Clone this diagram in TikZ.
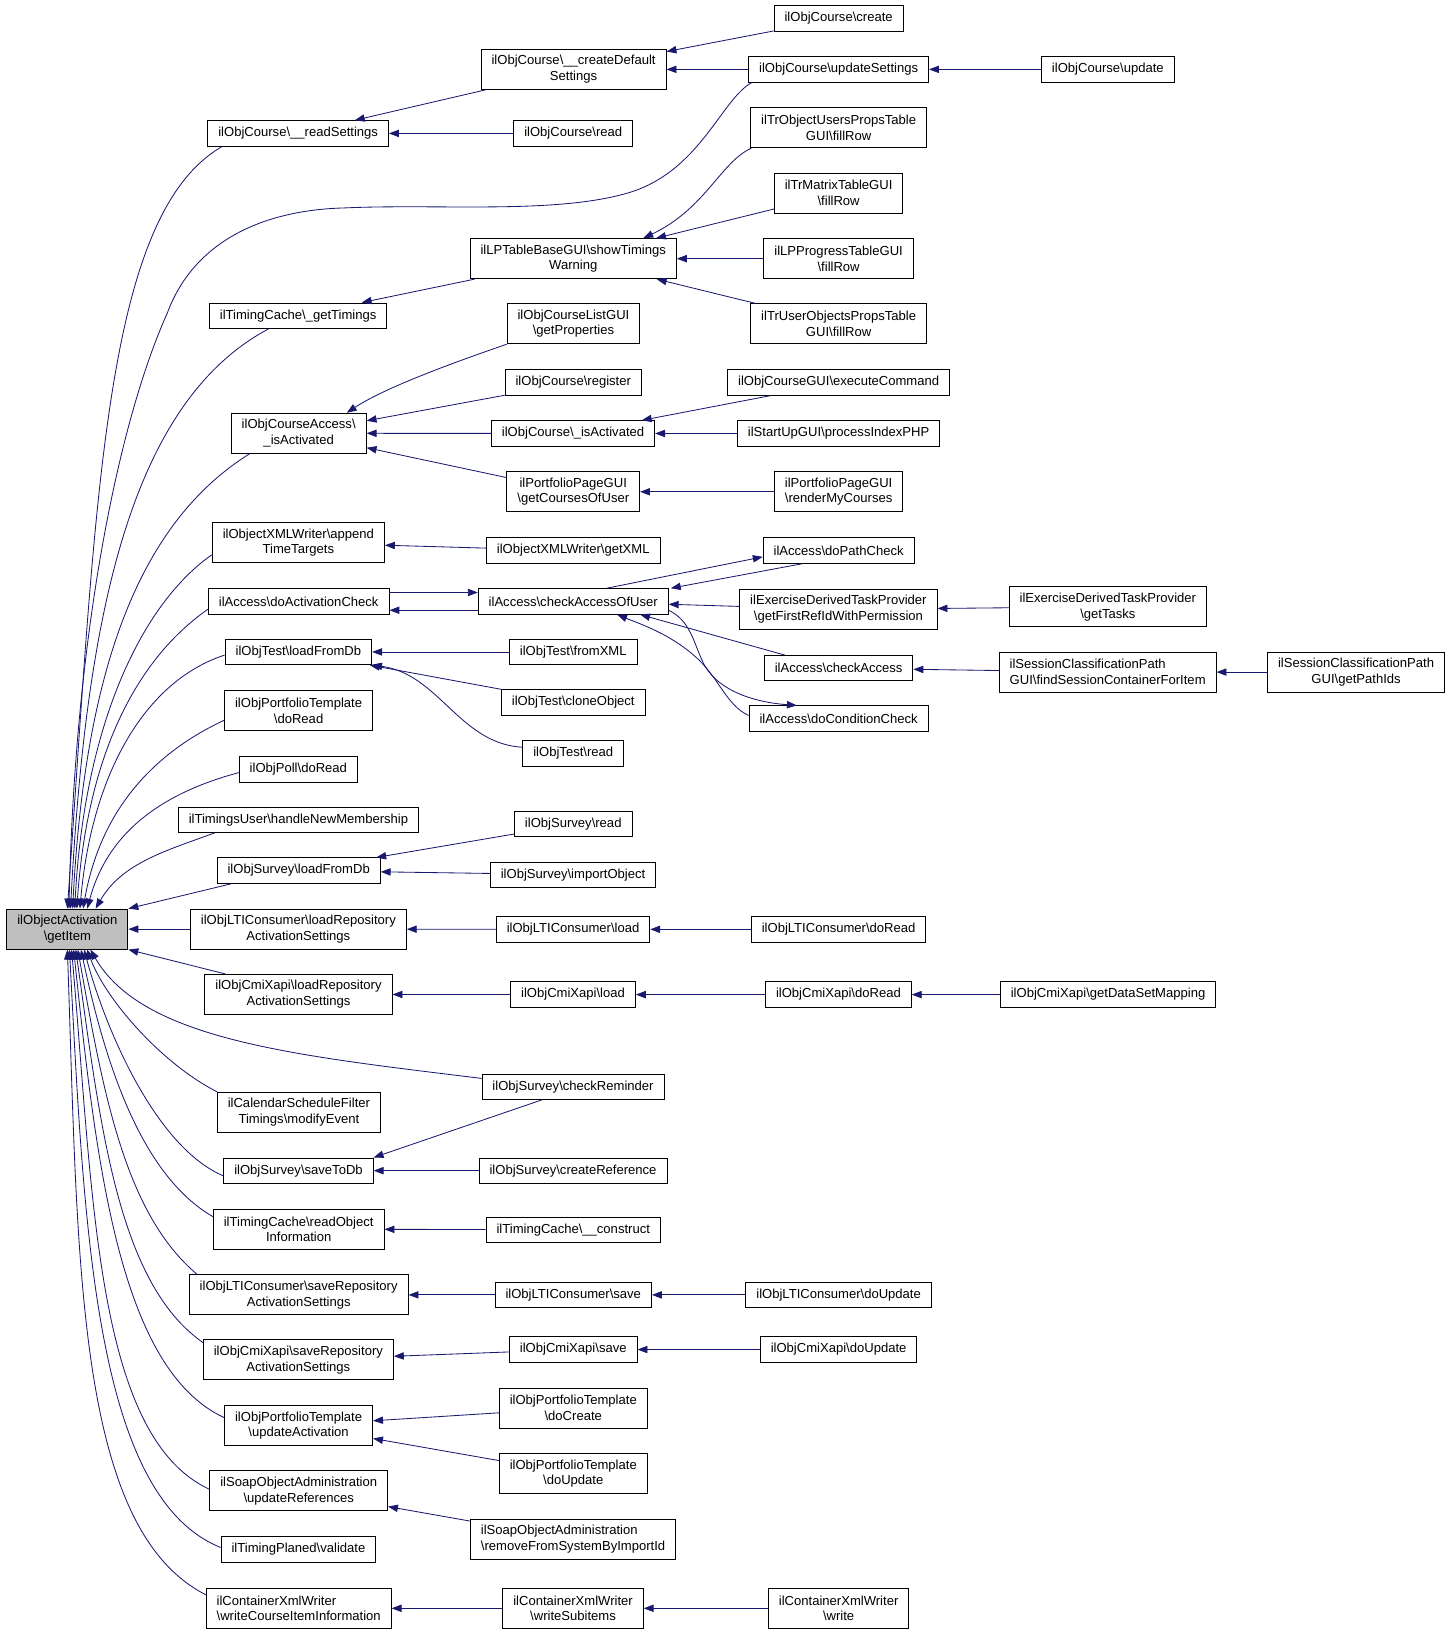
\documentclass[tikz,border=0pt]{standalone}
\usepackage{fontspec}
\setmainfont{Liberation Sans}
\usepackage{xcolor}
\usepackage{tikz}
\usetikzlibrary{arrows.meta}

\definecolor{edgeblue}{HTML}{191970}
\definecolor{focusgrey}{HTML}{BFBFBF}
\newcommand{\bks}{\textbackslash}

\begin{document}
\begin{tikzpicture}[
    x=1pt, y=1pt,
    fn/.style={rectangle, draw=black, line width=0.9pt, fill=white,
               font=\fontsize{12.5}{15}\selectfont,
               inner xsep=10pt, inner ysep=0pt, minimum height=24.3pt},
    fntwo/.style={fn, align=center, minimum height=38.3pt},
    fnleft/.style={fn, align=left, minimum height=38.3pt},
    focus/.style={fntwo, fill=focusgrey},
    arr/.style={-{Triangle[length=9.5pt, width=7pt]}, draw=edgeblue,
                line width=0.8pt}
]
    \useasboundingbox (0,0) rectangle (1390,-1564);

    \node[focus] (item) at (64.5,-889.3) {ilObjectActivation\\\bks getItem};

    % callers of getItem
    \node[fn] (readset) at (285.4,-127.7) {ilObjCourse\bks\_\_readSettings};
    \node[fn] (gettimings) at (285.4,-302.2) {ilTimingCache\bks\_getTimings};
    \node[fntwo] (accact) at (285.9,-414.7) {ilObjCourseAccess\bks\\\_isActivated};
    \node[fntwo] (appendtt) at (285.6,-519.5) {ilObjectXMLWriter\bks append\\TimeTargets};
    \node[fn] (actcheck) at (285.9,-575.6) {ilAccess\bks doActivationCheck};
    \node[fn] (testload) at (285.6,-624) {ilObjTest\bks loadFromDb};
    \node[fntwo] (pfdoread) at (285.8,-680.4) {ilObjPortfolioTemplate\\\bks doRead};
    \node[fn] (polldoread) at (285.6,-736.5) {ilObjPoll\bks doRead};
    \node[fn] (newmember) at (285.7,-784.7) {ilTimingsUser\bks handleNewMembership};
    \node[fn] (svyload) at (285.9,-833.3) {ilObjSurvey\bks loadFromDb};
    \node[fntwo] (ltiloadrep) at (285.6,-889.3) {ilObjLTIConsumer\bks loadRepository\\ActivationSettings};
    \node[fntwo] (cmiloadrep) at (285.7,-951.8) {ilObjCmiXapi\bks loadRepository\\ActivationSettings};
    \node[fntwo] (modevent) at (286.1,-1064.5) {ilCalendarScheduleFilter\\Timings\bks modifyEvent};
    \node[fn] (savedb) at (285.7,-1120.5) {ilObjSurvey\bks saveToDb};
    \node[fntwo] (readobj) at (285.9,-1176.5) {ilTimingCache\bks readObject\\Information};
    \node[fntwo] (ltisaverep) at (285.9,-1239.4) {ilObjLTIConsumer\bks saveRepository\\ActivationSettings};
    \node[fntwo] (cmisaverep) at (285.6,-1301.6) {ilObjCmiXapi\bks saveRepository\\ActivationSettings};
    \node[fntwo] (pfupdact) at (285.8,-1364.4) {ilObjPortfolioTemplate\\\bks updateActivation};
    \node[fntwo] (soapupd) at (285.9,-1427) {ilSoapObjectAdministration\\\bks updateReferences};
    \node[fn] (validate) at (285.7,-1483.2) {ilTimingPlaned\bks validate};
    \node[fnleft] (writecrs) at (285.9,-1539.4) {ilContainerXmlWriter\\\bks writeCourseItemInformation};

    % second level
    \node[fntwo] (cdef) at (549,-66.4) {ilObjCourse\bks\_\_createDefault\\Settings};
    \node[fn] (crsread) at (548.7,-127.7) {ilObjCourse\bks read};
    \node[fntwo] (showwarn) at (548.7,-247.6) {ilLPTableBaseGUI\bks showTimings\\Warning};
    \node[fntwo] (crslist) at (548.9,-309.9) {ilObjCourseListGUI\\\bks getProperties};
    \node[fn] (register) at (548.7,-366.2) {ilObjCourse\bks register};
    \node[fn] (crsact) at (548.5,-414.9) {ilObjCourse\bks\_isActivated};
    \node[fntwo] (pfcourses) at (548.7,-470.7) {ilPortfolioPageGUI\\\bks getCoursesOfUser};
    \node[fn] (getxml) at (548.7,-527) {ilObjectXMLWriter\bks getXML};
    \node[fn] (accuser) at (548.7,-575.6) {ilAccess\bks checkAccessOfUser};
    \node[fn] (fromxml) at (548.7,-624) {ilObjTest\bks fromXML};
    \node[fn] (clone) at (548.7,-672.5) {ilObjTest\bks cloneObject};
    \node[fn] (testread) at (548.7,-721.2) {ilObjTest\bks read};
    \node[fn] (svyread) at (548.7,-788.7) {ilObjSurvey\bks read};
    \node[fn] (svyimport) at (548.5,-837.2) {ilObjSurvey\bks importObject};
    \node[fn] (ltiload) at (548.5,-889.5) {ilObjLTIConsumer\bks load};
    \node[fn] (cmiload) at (548.5,-952) {ilObjCmiXapi\bks load};
    \node[fn] (reminder) at (548.5,-1040.2) {ilObjSurvey\bks checkReminder};
    \node[fn] (createref) at (548.5,-1120.5) {ilObjSurvey\bks createReference};
    \node[fn] (construct) at (548.7,-1177) {ilTimingCache\bks\_\_construct};
    \node[fn] (ltisave) at (548.7,-1239.4) {ilObjLTIConsumer\bks save};
    \node[fn] (cmisave) at (548.7,-1291.7) {ilObjCmiXapi\bks save};
    \node[fntwo] (pfcreate) at (548.7,-1347.8) {ilObjPortfolioTemplate\\\bks doCreate};
    \node[fntwo] (pfupdate) at (548.7,-1410.4) {ilObjPortfolioTemplate\\\bks doUpdate};
    \node[fnleft] (soapremove) at (548.5,-1473.3) {ilSoapObjectAdministration\\\bks removeFromSystemByImportId};
    \node[fntwo] (writesub) at (548.5,-1539.4) {ilContainerXmlWriter\\\bks writeSubitems};

    % third level
    \node[fn] (crscreate) at (802.7,-17.7) {ilObjCourse\bks create};
    \node[fn] (updset) at (802.7,-66.4) {ilObjCourse\bks updateSettings};
    \node[fntwo] (trobj) at (802.7,-122.2) {ilTrObjectUsersPropsTable\\GUI\bks fillRow};
    \node[fntwo] (trmatrix) at (802.7,-184.8) {ilTrMatrixTableGUI\\\bks fillRow};
    \node[fntwo] (lpprog) at (802.7,-247.6) {ilLPProgressTableGUI\\\bks fillRow};
    \node[fntwo] (truser) at (802.7,-309.9) {ilTrUserObjectsPropsTable\\GUI\bks fillRow};
    \node[fn] (execcmd) at (802.7,-366.2) {ilObjCourseGUI\bks executeCommand};
    \node[fn] (startup) at (802.7,-414.9) {ilStartUpGUI\bks processIndexPHP};
    \node[fntwo] (pfrender) at (802.7,-470.7) {ilPortfolioPageGUI\\\bks renderMyCourses};
    \node[fn] (pathcheck) at (802.7,-527) {ilAccess\bks doPathCheck};
    \node[fntwo] (firstref) at (802.5,-583.3) {ilExerciseDerivedTaskProvider\\\bks getFirstRefIdWithPermission};
    \node[fn] (chkaccess) at (802.7,-639.6) {ilAccess\bks checkAccess};
    \node[fn] (condcheck) at (802.7,-687.8) {ilAccess\bks doConditionCheck};
    \node[fn] (ltidoread) at (802.7,-889.5) {ilObjLTIConsumer\bks doRead};
    \node[fn] (cmidoread) at (802.5,-952) {ilObjCmiXapi\bks doRead};
    \node[fn] (ltiupdate) at (802.7,-1239.4) {ilObjLTIConsumer\bks doUpdate};
    \node[fn] (cmiupdate) at (802.7,-1291.7) {ilObjCmiXapi\bks doUpdate};
    \node[fntwo] (writexml) at (802.7,-1539.4) {ilContainerXmlWriter\\\bks write};

    % outer levels
    \node[fn] (crsupdate) at (1060.4,-66.4) {ilObjCourse\bks update};
    \node[fntwo] (gettasks) at (1060.4,-580.8) {ilExerciseDerivedTaskProvider\\\bks getTasks};
    \node[fnleft] (findsess) at (1060.2,-643.3) {ilSessionClassificationPath\\GUI\bks findSessionContainerForItem};
    \node[fn] (cmimapping) at (1060.6,-952) {ilObjCmiXapi\bks getDataSetMapping};
    \node[fntwo] (pathids) at (1298,-643.3) {ilSessionClassificationPath\\GUI\bks getPathIds};

    % fan into getItem from above
    \draw[arr] ([xshift=14pt]readset.south west) to[out=210, in=86, out distance=130pt, in distance=400pt] (item.north);
    \draw[arr] ([xshift=3.5pt]updset.south west) .. controls (690,-95) and (670,-165) .. (600,-185)
          .. controls (530,-205) and (420,-195) .. (330,-199)
          .. controls (250,-201) and (185,-232) .. (160,-300)
          .. controls (115,-400) and (72,-600) .. ([xshift=1.5pt]item.north);
    \draw[arr] ([xshift=57pt]gettimings.south west) to[out=208, in=87, out distance=150pt, in distance=280pt] ([xshift=3pt]item.north);
    \draw[arr] ([xshift=18pt]accact.south west) to[out=212, in=87, out distance=130pt, in distance=220pt] ([xshift=5pt]item.north);
    \draw[arr] ([yshift=-11.5pt]appendtt.west) to[out=215, in=87, out distance=80pt, in distance=180pt] ([xshift=7pt]item.north);
    \draw[arr] ([yshift=-7.5pt]actcheck.west) to[out=215, in=86, out distance=75pt, in distance=160pt] ([xshift=9pt]item.north);
    \draw[arr] ([yshift=-3pt]testload.west) to[out=198, in=85, out distance=80pt, in distance=130pt] ([xshift=12pt]item.north);
    \draw[arr] ([yshift=-9pt]pfdoread.west) to[out=205, in=80, out distance=70pt, in distance=100pt] ([xshift=15pt]item.north);
    \draw[arr] ([yshift=-3pt]polldoread.west) to[out=195, in=75, out distance=70pt, in distance=80pt] ([xshift=19pt]item.north);
    \draw[arr] ([xshift=35pt]newmember.south west) to[out=200, in=60, out distance=50pt, in distance=50pt] ([xshift=27pt]item.north);
    \draw[arr] ([xshift=14pt]svyload.south west) -- (item.north east);

    % straight into getItem
    \draw[arr] (ltiloadrep) -- (item);
    \draw[arr] ([xshift=20pt]cmiloadrep.north west) -- (item.south east);

    % fan into getItem from below
    \draw[arr] ([yshift=8pt]reminder.west) to[out=173, in=-60, out distance=180pt, in distance=100pt] ([xshift=22pt]item.south);
    \draw[arr] (modevent.north west) to[out=153, in=-70, out distance=60pt, in distance=50pt] ([xshift=19pt]item.south);
    \draw[arr] ([yshift=-5pt]savedb.west) to[out=157, in=-75, out distance=70pt, in distance=80pt] ([xshift=16pt]item.south);
    \draw[arr] ([yshift=12pt]readobj.west) to[out=150, in=-78, out distance=80pt, in distance=110pt] ([xshift=13pt]item.south);
    \draw[arr] ([xshift=8pt]ltisaverep.north west) to[out=140, in=-80, out distance=90pt, in distance=140pt] ([xshift=10pt]item.south);
    \draw[arr] ([yshift=-3pt]cmisaverep.north west) to[out=145, in=-82, out distance=100pt, in distance=170pt] ([xshift=8pt]item.south);
    \draw[arr] ([yshift=7.5pt]pfupdact.west) to[out=155, in=-84, out distance=110pt, in distance=210pt] ([xshift=6pt]item.south);
    \draw[arr] ([yshift=1.5pt]soapupd.west) to[out=155, in=-85, out distance=120pt, in distance=240pt] ([xshift=4pt]item.south);
    \draw[arr] ([yshift=2pt]validate.west) to[out=158, in=-87, out distance=130pt, in distance=270pt] ([xshift=2pt]item.south);
    \draw[arr] ([yshift=13pt]writecrs.west) to[out=153, in=-88, out distance=140pt, in distance=300pt] (item.south);

    % course settings
    \draw[arr] (crscreate) -- (cdef);
    \draw[arr] (updset) -- (cdef);
    \draw[arr] (crsupdate) -- (updset);
    \draw[arr] (cdef) -- (readset);
    \draw[arr] (crsread) -- (readset);

    % timings warning
    \draw[arr] ([xshift=1pt]trobj.south west) .. controls (690,-155) and (675,-200) .. ([xshift=67pt]showwarn.north);
    \draw[arr] (trmatrix) -- (showwarn);
    \draw[arr] (lpprog) -- (showwarn);
    \draw[arr] (truser) -- (showwarn);
    \draw[arr] (showwarn) -- (gettimings);

    % course access
    \draw[arr] (crslist.south west) .. controls (440,-345) and (370,-370) .. ([xshift=46pt]accact.north);
    \draw[arr] (register) -- (accact);
    \draw[arr] (crsact) -- (accact);
    \draw[arr] (pfcourses) -- (accact);
    \draw[arr] (execcmd) -- (crsact);
    \draw[arr] (startup) -- (crsact);
    \draw[arr] (pfrender) -- (pfcourses);
    \draw[arr] (getxml) -- (appendtt);

    % access checks
    \draw[arr] ([yshift=8.5pt]actcheck.east) -- ([yshift=8.5pt]accuser.west);
    \draw[arr] ([yshift=-8.5pt]accuser.west) -- ([yshift=-8.5pt]actcheck.east);
    \draw[arr] ([xshift=32pt]accuser.north) -- ([yshift=-6pt]pathcheck.west);
    \draw[arr] ([xshift=-35pt]pathcheck.south) -- ([xshift=2pt]accuser.north east);
    \draw[arr] (firstref) -- (accuser);
    \draw[arr] (gettasks) -- (firstref);
    \draw[arr] ([xshift=20pt]chkaccess.north west) -- ([xshift=64pt]accuser.south);
    \draw[arr] ([yshift=3pt]condcheck.west) .. controls (695,-675) and (688,-648) .. (665,-628)
          .. controls (640,-606) and (612,-597) .. ([xshift=42pt]accuser.south);
    \draw[arr] ([yshift=-8.5pt]accuser.east) .. controls (660,-594) and (663,-612) .. (672,-632)
          .. controls (684,-660) and (720,-672) .. ([xshift=-40pt]condcheck.north);
    \draw[arr] (findsess) -- (chkaccess);
    \draw[arr] (pathids) -- (findsess);

    % tests and surveys
    \draw[arr] (fromxml) -- (testload);
    \draw[arr] (clone) -- (testload);
    \draw[arr] ([yshift=6pt]testread.west) .. controls (440,-712) and (420,-645) .. (testload.south east);
    \draw[arr] (svyread) -- (svyload);
    \draw[arr] (svyimport) -- (svyload);
    \draw[arr] ([xshift=-30pt]reminder.south) -- (savedb.north east);
    \draw[arr] (createref) -- (savedb);
    \draw[arr] (construct) -- (readobj);

    % repository settings
    \draw[arr] (ltiload) -- (ltiloadrep);
    \draw[arr] (ltidoread) -- (ltiload);
    \draw[arr] (cmiload) -- (cmiloadrep);
    \draw[arr] (cmidoread) -- (cmiload);
    \draw[arr] (cmimapping) -- (cmidoread);
    \draw[arr] (ltisave) -- (ltisaverep);
    \draw[arr] (ltiupdate) -- (ltisave);
    \draw[arr] (cmisave) -- (cmisaverep);
    \draw[arr] (cmiupdate) -- (cmisave);

    % portfolio, soap, xml writer
    \draw[arr] (pfcreate) -- (pfupdact);
    \draw[arr] (pfupdate) -- (pfupdact);
    \draw[arr] (soapremove) -- (soapupd);
    \draw[arr] (writesub) -- (writecrs);
    \draw[arr] (writexml) -- (writesub);
\end{tikzpicture}
\end{document}
